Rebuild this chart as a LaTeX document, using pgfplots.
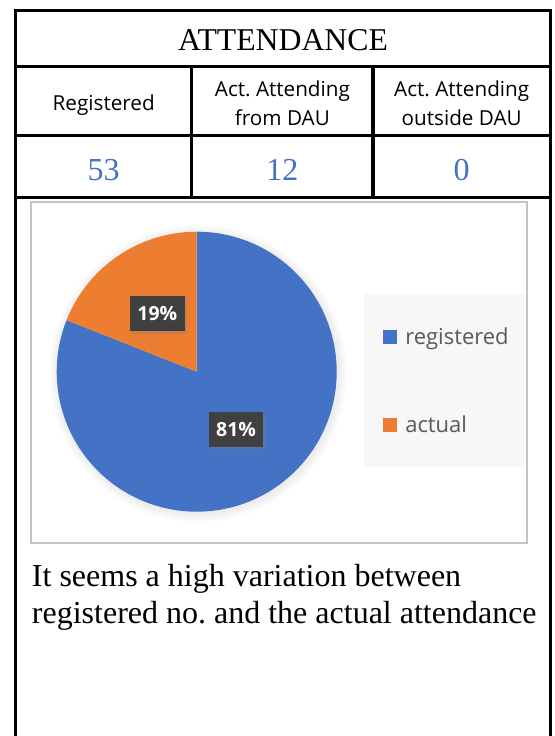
\documentclass[border=0pt]{standalone}
\usepackage{pgfplots}
\pgfplotsset{compat=1.18}
\usepackage{pgfplotstable}
\usepackage{fontspec}
\setmainfont{Liberation Serif}
\newfontfamily\sansf{Open Sans}
\usetikzlibrary{shadows}

\definecolor{pieblue}{HTML}{4472C4}
\definecolor{pieorange}{HTML}{ED7D31}
\definecolor{lblbox}{HTML}{404040}
\definecolor{legbg}{HTML}{F7F7F7}
\definecolor{boxgray}{HTML}{C4C4C4}
\definecolor{legtext}{HTML}{595959}
\definecolor{valblue}{HTML}{4472C4}

\pgfplotstableread{
label value
registered 81
actual 19
}\piedata

\begin{document}
\frenchspacing
\begin{tikzpicture}[x=0.75pt,y=-0.75pt]
\path[use as bounding box] (0,0) rectangle (554,736);
% table frame
\begin{scope}[line width=2.5pt]
\draw (15.7,740) -- (15.7,10.3) -- (550.3,10.3) -- (550.3,740);
\draw (15.7,66.7) -- (550.3,66.7);
\draw[line width=1.8pt] (15.7,135.5) -- (550.3,135.5);
\draw (15.7,197.7) -- (550.3,197.7);
\draw (191.8,66.7) -- (191.8,197.7);
\draw (373,66.7) -- (373,197.7);
\end{scope}
% title
\node[anchor=base, inner sep=0pt, font=\fontsize{23.8pt}{28pt}\selectfont] at (283,50) {ATTENDANCE};
% header
\begin{scope}[every node/.style={anchor=base, inner sep=0pt, font=\sansf\fontsize{15.5pt}{20pt}\selectfont}]
\node at (103.7,110) {Registered};
\node at (282.4,96.7) {Act. Attending};
\node at (282.4,125) {from DAU};
\node at (461.7,96.7) {Act. Attending};
\node at (461.7,125) {outside DAU};
\end{scope}
% values
\begin{scope}[every node/.style={anchor=base, inner sep=0pt, text=valblue, font=\fontsize{24pt}{28pt}\selectfont}]
\node at (103.7,180) {53};
\node at (282.4,180) {12};
\node at (461.7,180) {0};
\end{scope}
% chart box
\draw[boxgray, line width=1.5pt] (30.5,201.5) rectangle (527,543);
% legend box
\fill[legbg] (364,294) rectangle (525,467);
\fill[pieblue] (383.3,330) rectangle (397,344.3);
\fill[pieorange] (383.3,418.3) rectangle (397,432.3);
\node[anchor=base west, inner sep=0pt, text=legtext, font=\sansf\fontsize{16.5pt}{20pt}\selectfont] at (405,344.3) {registered};
\node[anchor=base west, inner sep=0pt, text=legtext, font=\sansf\fontsize{16.5pt}{20pt}\selectfont] at (405,432.7) {actual};
% soft shadow of the pie
\foreach \k in {1,...,9} {\fill[black, opacity=0.009] (198,373.5) circle[radius=140+\k];}
% data-driven angles
\pgfplotstablegetelem{0}{value}\of\piedata \pgfmathsetmacro{\va}{\pgfplotsretval}
\pgfplotstablegetelem{1}{value}\of\piedata \pgfmathsetmacro{\vb}{\pgfplotsretval}
\pgfmathsetmacro{\tot}{\va+\vb}
\pgfmathtruncatemacro{\pa}{round(100*\va/\tot)}
\pgfmathtruncatemacro{\pb}{round(100*\vb/\tot)}
\pgfmathsetmacro{\angB}{90+360*\vb/\tot}
\pgfmathsetmacro{\angBend}{\angB-360}
\pgfmathsetmacro{\midA}{\angB+180*\va/\tot}
\pgfmathsetmacro{\midB}{90+180*\vb/\tot}
\begin{axis}[at={(147.525pt,-278.775pt)}, anchor=center, hide axis, x=0.75pt, y=0.75pt,
  xmin=-150, xmax=150, ymin=-150, ymax=150, clip=false]
\fill[pieblue] (axis cs:0,0) -- +(90:105pt) arc[start angle=90, end angle=\angBend, radius=105pt] -- cycle;
\fill[pieorange] (axis cs:0,0) -- +(\angB:105pt) arc[start angle=\angB, end angle=90, radius=105pt] -- cycle;
\path (axis cs:0,0) ++(\midB:52.5pt) node[fill=lblbox, text=white, inner sep=0pt,
   minimum width=41pt, minimum height=26pt,
   font=\sansf\bfseries\fontsize{14.6pt}{16pt}\selectfont,
   drop shadow={shadow xshift=1.8pt, shadow yshift=-1.8pt, opacity=0.35}] {\pb\%};
\path (axis cs:0,0) ++(\midA:52.5pt) node[fill=lblbox, text=white, inner sep=0pt,
   minimum width=41pt, minimum height=26pt,
   font=\sansf\bfseries\fontsize{14.6pt}{16pt}\selectfont,
   drop shadow={shadow xshift=1.8pt, shadow yshift=-1.8pt, opacity=0.35}] {\pa\%};
\end{axis}
% comment text
\node[anchor=base west, inner sep=0pt, font=\fontsize{24pt}{28pt}\selectfont] at (31.7,586) {It seems a high variation between};
\node[anchor=base west, inner sep=0pt, font=\fontsize{24pt}{28pt}\selectfont] at (31.7,623) {registered no. and the actual attendance};
\end{tikzpicture}
\end{document}
